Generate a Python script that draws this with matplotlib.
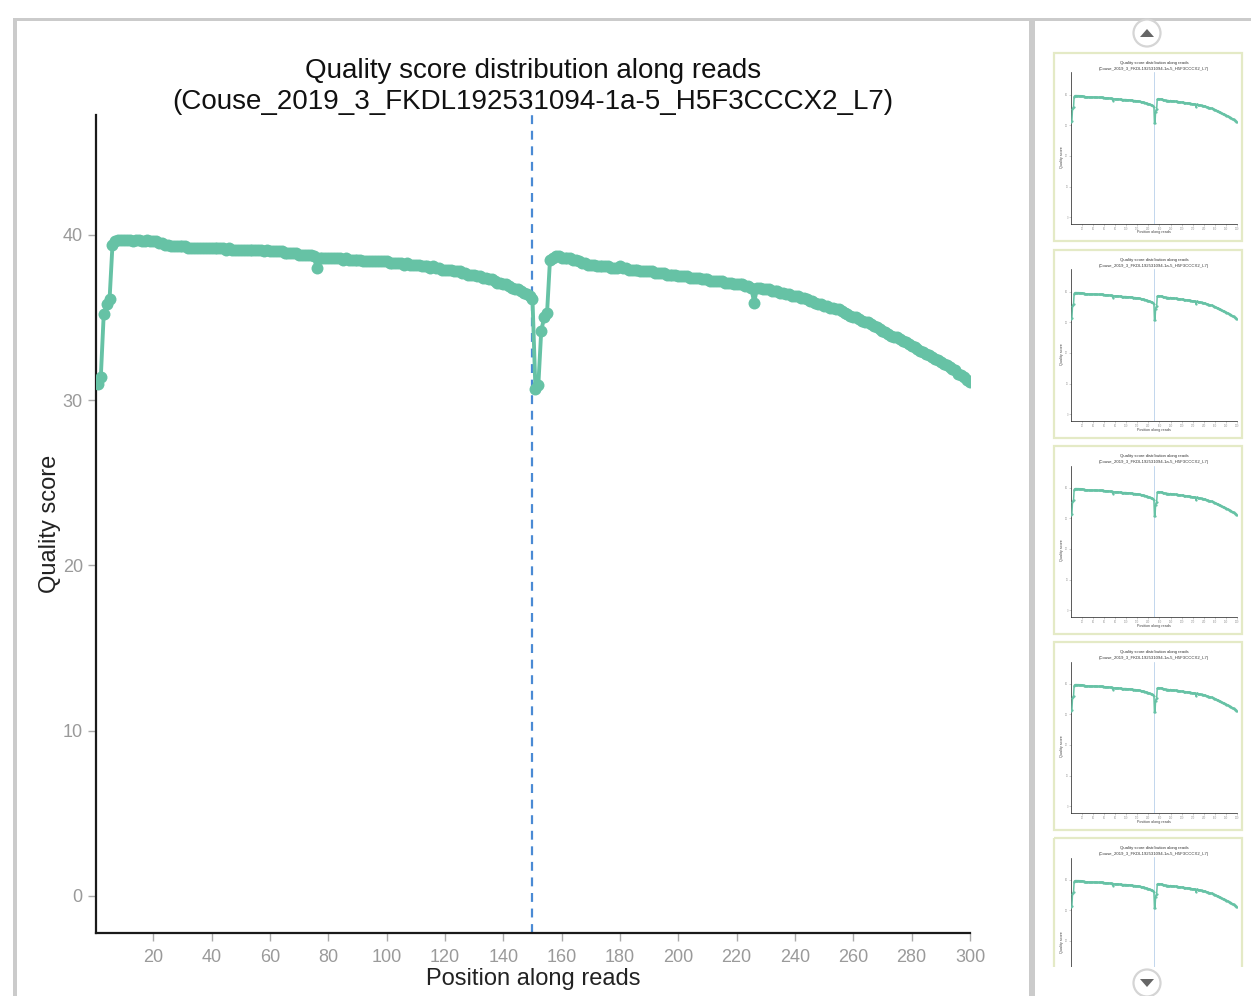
import matplotlib
matplotlib.use("Agg")
import matplotlib.pyplot as plt
from matplotlib.patches import Rectangle, Circle, Polygon

plt.rcParams['font.family'] = ['Liberation Sans', 'DejaVu Sans']

# ---------------- data ----------------
positions = list(range(1, 301))

read1_quality = [
    31.0, 31.4, 35.2, 35.8, 36.1, 39.4, 39.6, 39.7, 39.7, 39.7,
    39.7, 39.7, 39.6, 39.7, 39.7, 39.6, 39.6, 39.7, 39.6, 39.6,
    39.6, 39.5, 39.5, 39.4, 39.4, 39.3, 39.3, 39.3, 39.3, 39.3,
    39.3, 39.2, 39.2, 39.2, 39.2, 39.2, 39.2, 39.2, 39.2, 39.2,
    39.2, 39.2, 39.2, 39.2, 39.1, 39.2, 39.1, 39.1, 39.1, 39.1,
    39.1, 39.1, 39.1, 39.1, 39.1, 39.1, 39.1, 39.0, 39.1, 39.0,
    39.0, 39.0, 39.0, 39.0, 38.9, 38.9, 38.9, 38.9, 38.9, 38.8,
    38.8, 38.8, 38.8, 38.8, 38.7, 38.0, 38.6, 38.6, 38.6, 38.6,
    38.6, 38.6, 38.6, 38.6, 38.5, 38.6, 38.5, 38.5, 38.5, 38.5,
    38.5, 38.4, 38.4, 38.4, 38.4, 38.4, 38.4, 38.4, 38.4, 38.4,
    38.3, 38.3, 38.3, 38.3, 38.3, 38.2, 38.3, 38.2, 38.2, 38.2,
    38.2, 38.1, 38.1, 38.1, 38.0, 38.1, 38.0, 38.0, 37.9, 37.9,
    37.9, 37.9, 37.8, 37.8, 37.8, 37.7, 37.7, 37.6, 37.6, 37.6,
    37.5, 37.5, 37.4, 37.4, 37.3, 37.3, 37.2, 37.1, 37.1, 37.0,
    37.0, 36.9, 36.8, 36.7, 36.7, 36.6, 36.5, 36.4, 36.3, 36.1,
]

read2_quality = [
    30.7, 30.9, 34.2, 35.0, 35.3, 38.5, 38.6, 38.7, 38.7, 38.6,
    38.6, 38.6, 38.6, 38.5, 38.5, 38.4, 38.3, 38.3, 38.2, 38.2,
    38.2, 38.1, 38.1, 38.1, 38.1, 38.1, 38.0, 38.0, 38.0, 38.1,
    38.0, 38.0, 37.9, 37.9, 37.9, 37.9, 37.8, 37.8, 37.8, 37.8,
    37.8, 37.7, 37.7, 37.7, 37.7, 37.6, 37.6, 37.6, 37.6, 37.5,
    37.5, 37.5, 37.5, 37.4, 37.4, 37.4, 37.4, 37.3, 37.3, 37.3,
    37.2, 37.2, 37.2, 37.2, 37.2, 37.1, 37.1, 37.1, 37.0, 37.0,
    37.0, 37.0, 36.9, 36.9, 36.8, 35.9, 36.8, 36.8, 36.7, 36.7,
    36.7, 36.6, 36.6, 36.6, 36.5, 36.5, 36.4, 36.4, 36.3, 36.3,
    36.3, 36.2, 36.2, 36.1, 36.0, 36.0, 35.9, 35.8, 35.8, 35.7,
    35.7, 35.6, 35.6, 35.5, 35.5, 35.4, 35.3, 35.2, 35.1, 35.0,
    35.0, 34.9, 34.8, 34.7, 34.7, 34.6, 34.5, 34.4, 34.3, 34.2,
    34.1, 34.0, 33.9, 33.8, 33.8, 33.7, 33.6, 33.5, 33.4, 33.3,
    33.2, 33.1, 33.0, 32.9, 32.8, 32.7, 32.6, 32.5, 32.4, 32.3,
    32.2, 32.1, 32.0, 31.9, 31.8, 31.6, 31.5, 31.4, 31.2, 31.1,
]

quality = read1_quality + read2_quality
read_boundary = 150
x_ticks = [20, 40, 60, 80, 100, 120, 140, 160, 180, 200, 220, 240, 260, 280, 300]
y_ticks = [0, 10, 20, 30, 40]
title_line1 = "Quality score distribution along reads"
title_line2 = "(Couse_2019_3_FKDL192531094-1a-5_H5F3CCCX2_L7)"
x_label = "Position along reads"
y_label = "Quality score"
thumb_tops = [53, 250, 446, 642, 838]

# ---------------- layout ----------------
W, H = 1251, 996
fig = plt.figure(figsize=(W / 100, H / 100), dpi=100)
fig.patch.set_facecolor('white')


def px_rect(x0, y0, x1, y1):
    return [x0 / W, 1 - y1 / H, (x1 - x0) / W, (y1 - y0) / H]


GREEN = '#66c2a5'
VLINE = '#4a8ad4'
BORDER = '#cbcbcb'

# background UI frame
bg = fig.add_axes([0, 0, 1, 1], zorder=-5)
bg.set_xlim(0, W)
bg.set_ylim(H, 0)
bg.axis('off')
bg.add_patch(Rectangle((13, 18), 4, H - 18, color=BORDER, lw=0))
bg.add_patch(Rectangle((13, 18), W - 13, 3, color=BORDER, lw=0))
bg.add_patch(Rectangle((1029, 18), 6, H - 18, color=BORDER, lw=0))
for top in thumb_tops:
    bg.add_patch(Rectangle((1053.5, top), 188, 188, fill=False,
                           ec='#e4eac6', lw=1.6))


def draw_chart(ax, lw, ms, vlw, vstyle, vcolor, spine_w, tick_len, tick_w,
               label_size, pad):
    ax.plot(positions, quality, '-o', color=GREEN, lw=lw, ms=ms,
            markeredgewidth=0, zorder=3)
    ax.axvline(read_boundary, color=vcolor, lw=vlw, ls=vstyle, zorder=2)
    ax.set_xlim(0.35, 300)
    ax.set_ylim(-2.24, 47.25)
    ax.set_xticks(x_ticks)
    ax.set_yticks(y_ticks)
    for s in ['top', 'right']:
        ax.spines[s].set_visible(False)
    for s in ['left', 'bottom']:
        ax.spines[s].set_linewidth(spine_w)
        ax.spines[s].set_color('#1a1a1a')
    ax.tick_params(axis='both', color='#aaaaaa', labelcolor='#9a9a9a',
                   length=tick_len, width=tick_w, labelsize=label_size,
                   pad=pad)


# main chart
ax = fig.add_axes(px_rect(96, 115, 970, 933))
draw_chart(ax, lw=2.8, ms=8.6, vlw=1.6, vstyle=(0, (4, 3)), vcolor=VLINE,
           spine_w=1.6, tick_len=5.5, tick_w=1.0, label_size=13, pad=4)
ax.tick_params(axis='x', pad=6)
fig.text(533 / W, 1 - 71 / H, title_line1, ha='center', va='center',
         fontsize=20, color='#111111')
fig.text(533 / W, 1 - 102 / H, title_line2, ha='center', va='center',
         fontsize=20, color='#111111')
fig.text(533 / W, 1 - 979 / H, x_label, ha='center', va='center',
         fontsize=17, color='#222222')
fig.text(50 / W, 1 - 524 / H, y_label, ha='center', va='center',
         fontsize=17, color='#222222', rotation=90)

# thumbnails
n_thumbs = len(thumb_tops)
for i, top in enumerate(thumb_tops):
    tax = fig.add_axes(px_rect(1071, top + 19.5, 1237, top + 171))
    draw_chart(tax, lw=1.1, ms=1.6, vlw=0.5, vstyle='-', vcolor='#a9c6e6',
               spine_w=0.5, tick_len=1.2, tick_w=0.4, label_size=1.8,
               pad=0.8)
    fig.text(1154 / W, 1 - (top + 9.8) / H, title_line1, ha='center',
             va='center', fontsize=3.1, color='#333333')
    fig.text(1154 / W, 1 - (top + 15.6) / H, title_line2, ha='center',
             va='center', fontsize=3.1, color='#333333')
    fig.text(1062 / W, 1 - (top + 104) / H, y_label, ha='center',
             va='center', fontsize=2.7, color='#444444', rotation=90)
    if i < n_thumbs - 1:
        fig.text(1154 / W, 1 - (top + 179.5) / H, x_label, ha='center',
                 va='center', fontsize=2.7, color='#444444')
    else:
        # bottom of the last thumbnail is scrolled out of view
        tax.tick_params(axis='x', labelbottom=False)
        tax.set_yticklabels(['' if v < 20 else str(v) for v in y_ticks])

# foreground: clip bottom of side panel and draw scroll arrows
fg = fig.add_axes([0, 0, 1, 1], zorder=20)
fg.set_xlim(0, W)
fg.set_ylim(H, 0)
fg.axis('off')
fg.patch.set_alpha(0)
fg.add_patch(Rectangle((1036, 967), W - 1036, H - 967, color='white', lw=0))
fg.add_patch(Rectangle((1035, 18), W - 1035, 3, color=BORDER, lw=0))
fg.add_patch(Circle((1147, 33), 13.5, fc='white', ec='#d5d5d5', lw=1.6))
fg.add_patch(Polygon([(1140, 37), (1154, 37), (1147, 29)], closed=True,
                     color='#666666', lw=0))
fg.add_patch(Circle((1147, 983), 13.5, fc='white', ec='#d5d5d5', lw=1.6))
fg.add_patch(Polygon([(1140, 979), (1154, 979), (1147, 987)], closed=True,
                     color='#666666', lw=0))

fig.savefig('out.png', dpi=100, facecolor='white')
